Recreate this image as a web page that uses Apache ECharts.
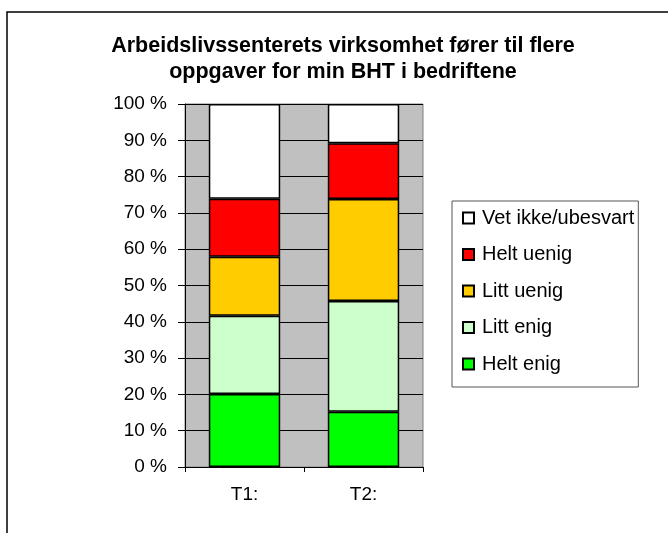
<!DOCTYPE html>
<html lang="no">
<head>
    <meta charset="UTF-8">
    <title>Arbeidslivssenteret</title>
    <style>
        * {
            margin: 0;
            padding: 0;
        }

        .main {
            width: 668px;
            height: 533px;
            background: #fff;
        }
    </style>
</head>
<body>
<div id="main" class="main"></div>
<script src="https://cdn.jsdelivr.net/npm/echarts@6/dist/echarts.min.js"></script>
<script>
    // data (percent)
    var categories = ['T1:', 'T2:'];
    var heltEnig = [20.1, 15.2];
    var littEnig = [21.6, 30.5];
    var littUenig = [16.2, 28.1];
    var heltUenig = [16.0, 15.4];
    var vetIkke = [26.1, 10.8];
    var yTicks = [0, 10, 20, 30, 40, 50, 60, 70, 80, 90, 100];

    var font = 'Liberation Sans, Arial, sans-serif';

    function bar(name, data, color) {
        return {
            name: name,
            type: 'bar',
            stack: 'all',
            barWidth: '60%',
            data: data,
            itemStyle: {color: color, borderColor: '#000', borderWidth: 1.5},
            emphasis: {disabled: true}
        };
    }

    var myChart = echarts.init(document.getElementById('main'), null, {renderer: 'canvas'});

    myChart.setOption({
        animation: false,
        title: {
            text: 'Arbeidslivssenterets virksomhet fører til flere\noppgaver for min BHT i bedriftene',
            left: 338,
            textAlign: 'center',
            top: 28,
            textStyle: {
                fontFamily: font,
                fontSize: 21.5,
                fontWeight: 'bold',
                color: '#000',
                lineHeight: 26
            }
        },
        graphic: [{
            type: 'rect',
            shape: {x: 7, y: 12, width: 720, height: 600},
            style: {fill: 'none', stroke: '#000', lineWidth: 1.5},
            silent: true
        }],
        legend: {
            orient: 'vertical',
            left: 452,
            top: 201,
            padding: [7, 4, 13, 10],
            itemGap: 16.5,
            itemWidth: 11,
            itemHeight: 11,
            icon: 'rect',
            borderColor: '#555',
            borderWidth: 1,
            backgroundColor: '#fff',
            data: ['Vet ikke/ubesvart', 'Helt uenig', 'Litt uenig', 'Litt enig', 'Helt enig'],
            textStyle: {
                fontFamily: font,
                fontSize: 20,
                color: '#000',
                padding: [0, 0, 0, 3]
            },
            selectedMode: false
        },
        grid: {
            left: 185,
            right: 245,
            top: 104,
            bottom: 66,
            show: true,
            backgroundColor: '#C0C0C0',
            borderColor: '#808080',
            borderWidth: 1
        },
        xAxis: {
            type: 'category',
            data: categories,
            axisLine: {lineStyle: {color: '#000', width: 1}},
            axisTick: {show: true, length: 5, lineStyle: {color: '#000'}},
            axisLabel: {
                fontFamily: font,
                fontSize: 19,
                color: '#000',
                margin: 18
            }
        },
        yAxis: {
            type: 'value',
            min: yTicks[0],
            max: yTicks[yTicks.length - 1],
            interval: 10,
            axisLine: {show: true, lineStyle: {color: '#000', width: 1}},
            axisTick: {show: true, length: 7, lineStyle: {color: '#000'}},
            splitLine: {lineStyle: {color: '#000', width: 1}},
            axisLabel: {
                fontFamily: font,
                fontSize: 19,
                color: '#000',
                margin: 18,
                formatter: '{value} %'
            }
        },
        series: [
            bar('Helt enig', heltEnig, '#00FF00'),
            bar('Litt enig', littEnig, '#CCFFCC'),
            bar('Litt uenig', littUenig, '#FFCC00'),
            bar('Helt uenig', heltUenig, '#FF0000'),
            bar('Vet ikke/ubesvart', vetIkke, '#FFFFFF')
        ]
    });
</script>
</body>
</html>
